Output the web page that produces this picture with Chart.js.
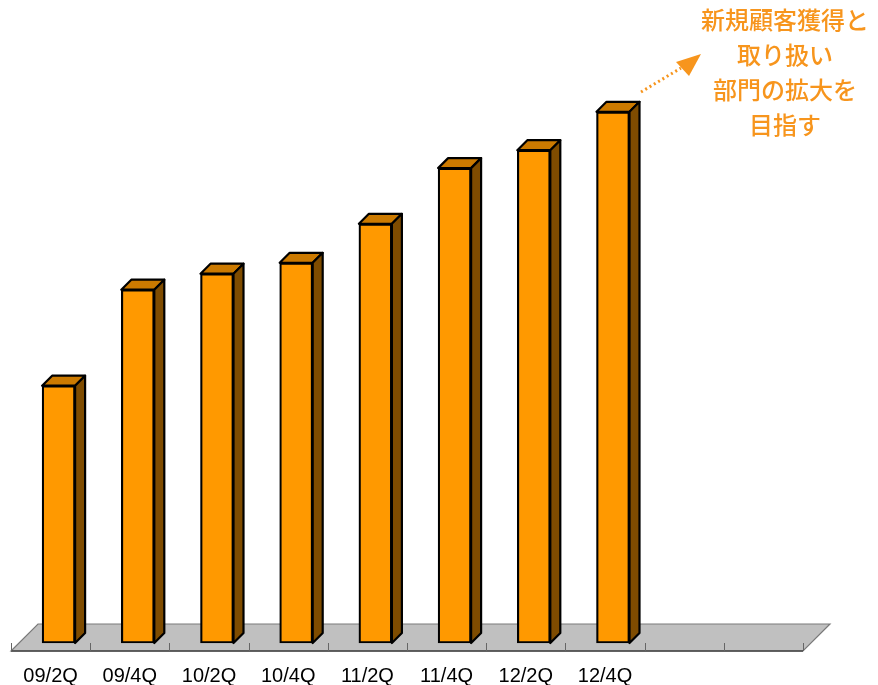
<!DOCTYPE html>
<html>
<head>
<meta charset="utf-8">
<script src="https://cdn.jsdelivr.net/npm/chart.js@4.4.1/dist/chart.umd.min.js"></script>
<style>
  html, body { margin: 0; padding: 0; background: #fff; }
  #wrap { width: 878px; height: 685px; }
</style>
</head>
<body>
<div id="wrap"><canvas id="myChart"></canvas></div>
<script>
// 四半期ごとの推移（最後の2区分は空欄）
const periods = ['09/2Q', '09/4Q', '10/2Q', '10/4Q', '11/2Q', '11/4Q', '12/2Q', '12/4Q', '', ''];
const values = [40.2, 55.2, 57.7, 59.4, 65.5, 74.2, 77.0, 83.0, null, null];
const noteLines = ['新規顧客獲得と', '取り扱い', '部門の拡大を', '目指す'];

const SHIFT = 8;   // bars stand a bit back on the floor
const DEPTH = 10;  // depth of each box
const FLOOR = 27;  // depth of the floor

const boxes = {
    id: 'boxes',
    beforeDatasetsDraw(chart) {
        const ctx = chart.ctx;
        const area = chart.chartArea;
        const xs = chart.scales.x;
        const b = area.bottom;

        // gray floor
        ctx.save();
        ctx.beginPath();
        ctx.moveTo(area.left, b);
        ctx.lineTo(area.right, b);
        ctx.lineTo(area.right + FLOOR, b - FLOOR);
        ctx.lineTo(area.left + FLOOR, b - FLOOR);
        ctx.closePath();
        ctx.fillStyle = '#c0c0c0';
        ctx.fill();
        ctx.strokeStyle = '#7a7a7a';
        ctx.lineWidth = 1.2;
        ctx.stroke();
        ctx.beginPath();
        ctx.moveTo(area.left, b);
        ctx.lineTo(area.right, b);
        ctx.strokeStyle = '#444';
        ctx.lineWidth = 1.6;
        ctx.stroke();

        // category ticks on the front edge
        const step = (area.right - area.left) / periods.length;
        ctx.beginPath();
        for (let i = 0; i <= periods.length; i++) {
            const px = Math.round(xs.getPixelForValue(i) - step / 2) + 0.5;
            ctx.moveTo(px, b);
            ctx.lineTo(px, b - 8);
        }
        ctx.strokeStyle = '#666';
        ctx.lineWidth = 1;
        ctx.stroke();
        ctx.restore();

        ctx.save();
        ctx.translate(SHIFT, -SHIFT);
    },
    afterDatasetsDraw(chart) {
        const ctx = chart.ctx;
        const meta = chart.getDatasetMeta(0);
        ctx.lineWidth = 2.2;
        ctx.lineJoin = 'round';
        ctx.strokeStyle = '#000';
        meta.data.forEach((bar, i) => {
            if (values[i] == null) return;
            const p = bar.getProps(['x', 'y', 'base', 'width'], true);
            const l = p.x - p.width / 2;
            const r = p.x + p.width / 2;
            // top
            ctx.beginPath();
            ctx.moveTo(l, p.y);
            ctx.lineTo(l + DEPTH, p.y - DEPTH);
            ctx.lineTo(r + DEPTH, p.y - DEPTH);
            ctx.lineTo(r, p.y);
            ctx.closePath();
            ctx.fillStyle = '#cc7a00';
            ctx.fill();
            ctx.stroke();
            // side
            ctx.beginPath();
            ctx.moveTo(r, p.y);
            ctx.lineTo(r + DEPTH, p.y - DEPTH);
            ctx.lineTo(r + DEPTH, p.base - DEPTH);
            ctx.lineTo(r, p.base);
            ctx.closePath();
            ctx.fillStyle = '#7f4c00';
            ctx.fill();
            ctx.stroke();
        });
        ctx.restore();
    },
    afterDraw(chart) {
        const ctx = chart.ctx;
        ctx.save();
        ctx.fillStyle = '#f7951d';
        ctx.font = '500 24px "Noto Sans CJK JP"';
        ctx.textAlign = 'center';
        ctx.textBaseline = 'middle';
        noteLines.forEach((t, i) => ctx.fillText(t, 785, 20 + i * 35));

        // dotted arrow
        ctx.strokeStyle = '#f7951d';
        ctx.lineWidth = 3;
        ctx.setLineDash([2, 3]);
        ctx.beginPath();
        ctx.moveTo(641, 92);
        ctx.lineTo(681, 68);
        ctx.stroke();
        ctx.setLineDash([]);
        ctx.beginPath();
        ctx.moveTo(701, 54);
        ctx.lineTo(676, 62);
        ctx.lineTo(689, 76);
        ctx.closePath();
        ctx.fill();
        ctx.restore();
    }
};

new Chart(document.getElementById('myChart'), {
    type: 'bar',
    data: {
        labels: periods,
        datasets: [{
            data: values,
            backgroundColor: '#ff9900',
            borderColor: '#000',
            borderWidth: 2.2,
            borderSkipped: false,
            barThickness: 33,
            clip: false
        }]
    },
    options: {
        responsive: true,
        maintainAspectRatio: false,
        animation: false,
        layout: { padding: { left: 11, right: 75, top: 11, bottom: 0 } },
        plugins: { legend: { display: false }, tooltip: { enabled: false } },
        scales: {
            x: {
                grid: { display: false, drawTicks: false },
                border: { display: false },
                ticks: {
                    color: '#000',
                    padding: 13,
                    maxRotation: 0,
                    autoSkip: false,
                    font: { family: '"Liberation Sans", Arial, sans-serif', size: 20 }
                },
                afterFit(s) { s.height = 34; }
            },
            y: {
                display: false,
                min: 0,
                max: 100
            }
        }
    },
    plugins: [boxes]
});
</script>
</body>
</html>
